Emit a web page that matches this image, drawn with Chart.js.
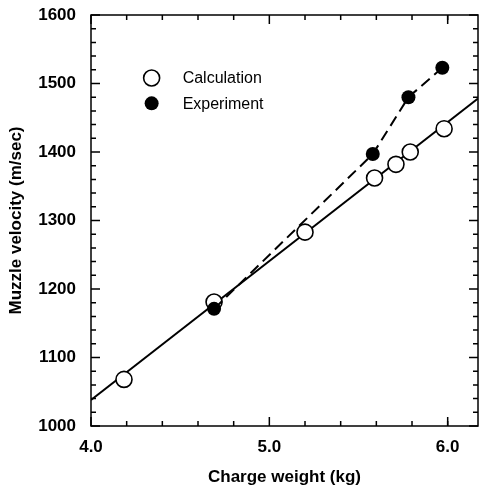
<!DOCTYPE html>
<html>
<head>
<meta charset="utf-8">
<script src="https://cdn.jsdelivr.net/npm/chart.js@4/dist/chart.umd.min.js"></script>
<style>
  html, body { margin: 0; padding: 0; background: #fff; }
  #wrap { position: relative; width: 481px; height: 488px; }
</style>
</head>
<body>
<div id="wrap"><canvas id="chart" width="481" height="488"></canvas></div>
<script>
// Values
const calcWeight = [4.185, 4.69, 5.20, 5.59, 5.71, 5.79, 5.98];
const calcVelocity = [1068, 1181, 1283, 1362, 1382, 1400, 1434];

const expWeight = [4.69, 5.58, 5.78, 5.97];
const expVelocity = [1171, 1397, 1480, 1523];

// solid calculated trend line (end points read at the frame edges)
const fitWeight = [4.0, 6.17];
const fitVelocity = [1038, 1478];

// tick values
const xMajor = [4.0, 5.0, 6.0];
const xMinor = [4.2, 4.4, 4.6, 4.8, 5.2, 5.4, 5.6, 5.8, 6.0];
const yMajor = [1000, 1100, 1200, 1300, 1400, 1500, 1600];
const yMinor = [1020, 1040, 1060, 1080, 1120, 1140, 1160, 1180, 1220, 1240, 1260, 1280,
  1320, 1340, 1360, 1380, 1420, 1440, 1460, 1480, 1520, 1540, 1560, 1580];

const toXY = (xs, ys) => xs.map((x, i) => ({x: x, y: ys[i]}));

const FONT = "'Liberation Sans', Arial, sans-serif";

// frame + inward ticks on all four sides, and the inset legend
const framePlugin = {
  id: 'frame',
  afterDraw(chart) {
    const ctx = chart.ctx;
    const a = chart.chartArea;
    const xs = chart.scales.x, ys = chart.scales.y;
    ctx.save();
    ctx.strokeStyle = '#000';
    ctx.lineWidth = 1.5;
    ctx.strokeRect(a.left, a.top, a.right - a.left, a.bottom - a.top);

    function xTick(v, len) {
      const px = xs.getPixelForValue(v);
      ctx.beginPath();
      ctx.moveTo(px, a.bottom); ctx.lineTo(px, a.bottom - len);
      ctx.moveTo(px, a.top); ctx.lineTo(px, a.top + len);
      ctx.stroke();
    }
    function yTick(v, len) {
      const py = ys.getPixelForValue(v);
      ctx.beginPath();
      ctx.moveTo(a.left, py); ctx.lineTo(a.left + len, py);
      ctx.moveTo(a.right, py); ctx.lineTo(a.right - len, py);
      ctx.stroke();
    }
    xMajor.forEach(v => xTick(v, 9));
    xMinor.forEach(v => xTick(v, 5));
    yMajor.forEach(v => yTick(v, 9));
    yMinor.forEach(v => yTick(v, 5));

    // legend
    const lx = xs.getPixelForValue(4.34);
    const items = [
      {label: chart.data.datasets[0].label, filled: false, y: ys.getPixelForValue(1508)},
      {label: chart.data.datasets[1].label, filled: true, y: ys.getPixelForValue(1471)}
    ];
    ctx.font = '16px ' + FONT;
    ctx.textBaseline = 'middle';
    ctx.textAlign = 'left';
    items.forEach(it => {
      ctx.beginPath();
      ctx.arc(lx, it.y, it.filled ? 7 : 8, 0, Math.PI * 2);
      if (it.filled) { ctx.fillStyle = '#000'; ctx.fill(); }
      else { ctx.fillStyle = '#fff'; ctx.fill(); ctx.lineWidth = 1.6; ctx.stroke(); }
      ctx.fillStyle = '#000';
      ctx.fillText(it.label, lx + 31, it.y + 1);
    });
    ctx.restore();
  }
};

new Chart(document.getElementById('chart').getContext('2d'), {
  type: 'scatter',
  data: {
    datasets: [
      {
        label: 'Calculation',
        data: toXY(calcWeight, calcVelocity),
        showLine: false,
        pointRadius: 8,
        pointBorderWidth: 1.6,
        pointBackgroundColor: '#fff',
        pointBorderColor: '#000',
        order: 1
      },
      {
        label: 'Experiment',
        data: toXY(expWeight, expVelocity),
        showLine: true,
        borderColor: '#000',
        borderWidth: 2,
        borderDash: [11, 6],
        pointRadius: 7,
        pointBorderWidth: 0,
        pointBackgroundColor: '#000',
        pointBorderColor: '#000',
        order: 0
      },
      {
        label: 'fit',
        data: toXY(fitWeight, fitVelocity),
        showLine: true,
        borderColor: '#000',
        borderWidth: 2,
        pointRadius: 0,
        order: 2
      }
    ]
  },
  options: {
    responsive: false,
    animation: false,
    layout: { autoPadding: false, padding: { top: 15, right: 3, left: 0, bottom: 0 } },
    plugins: { legend: { display: false }, tooltip: { enabled: false } },
    scales: {
      x: {
        type: 'linear',
        min: 4.0,
        max: 6.17,
        afterBuildTicks: s => { s.ticks = xMajor.map(v => ({value: v})); },
        afterFit: s => { s.height = 62; s.paddingLeft = 0; s.paddingRight = 0; },
        grid: { display: false },
        border: { display: false },
        ticks: {
          color: '#000',
          padding: 3,
          maxRotation: 0,
          font: { family: FONT, size: 17, weight: 'bold' },
          callback: v => v.toFixed(1)
        },
        title: {
          display: true,
          text: 'Charge weight (kg)',
          color: '#000',
          font: { family: FONT, size: 17, weight: 'bold' },
          padding: { top: 6, bottom: 0 }
        }
      },
      y: {
        type: 'linear',
        min: 1000,
        max: 1600,
        afterBuildTicks: s => { s.ticks = yMajor.map(v => ({value: v})); },
        afterFit: s => { s.width = 91; s.paddingTop = 0; s.paddingBottom = 0; },
        grid: { display: false },
        border: { display: false },
        ticks: {
          color: '#000',
          padding: 7,
          font: { family: FONT, size: 17, weight: 'bold' },
          callback: v => String(v)
        },
        title: {
          display: true,
          text: 'Muzzle velocity (m/sec)',
          color: '#000',
          font: { family: FONT, size: 17, weight: 'bold' },
          padding: { top: 6, bottom: 0 }
        }
      }
    }
  },
  plugins: [framePlugin]
});
</script>
</body>
</html>
